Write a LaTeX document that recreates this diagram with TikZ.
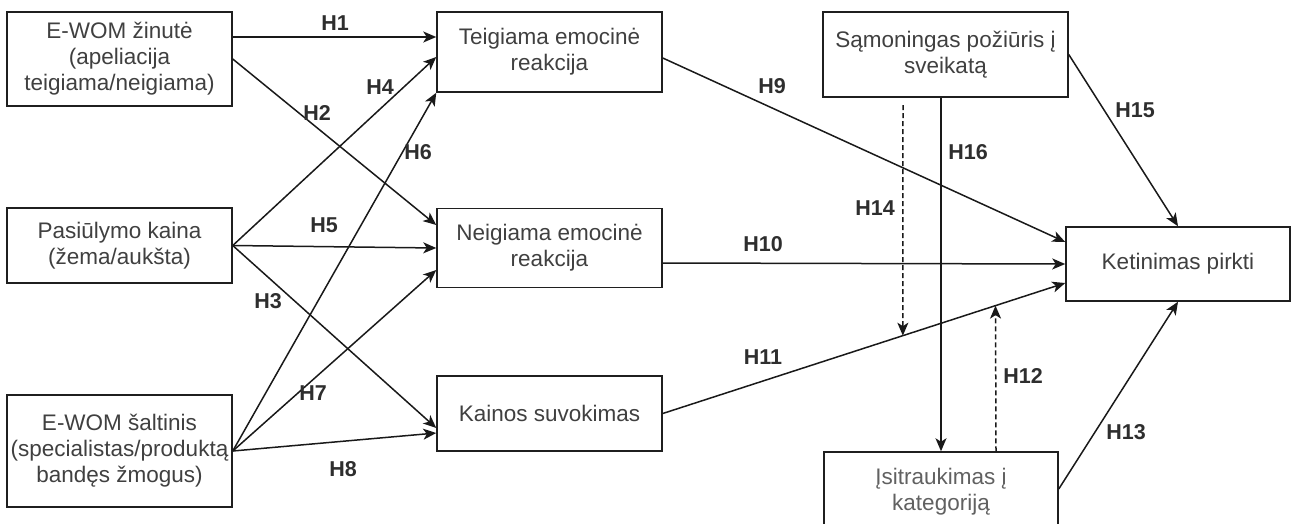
\documentclass[tikz,border=0pt]{standalone}
\usepackage{fontspec}
\setmainfont{Liberation Sans}
\usetikzlibrary{arrows.meta,calc}

\begin{document}
\begin{tikzpicture}[x=1pt,y=-1pt,
  box/.style={draw=black!88, line width=1.5pt, fill=white, align=center,
    text=black!75, font=\fontsize{22.5}{26}\selectfont, inner sep=0pt},
  link/.style={line width=1.5pt, draw=black!90,
    -{Stealth[length=13pt,width=11pt,inset=3.5pt]}},
  dlink/.style={link, dash pattern=on 5pt off 3pt},
  hyp/.style={font=\fontsize{21.5}{24}\selectfont\bfseries, text=black!82, inner sep=0pt}]

\useasboundingbox (0,0) rectangle (1291,523);

% independent variables
\node[box, minimum width=225pt, minimum height=94pt]  (A) at (119.5,59)
  {E-WOM žinutė\\(apeliacija\\teigiama/neigiama)};
\node[box, minimum width=225pt, minimum height=75pt]  (B) at (119.5,245.5)
  {Pasiūlymo kaina\\(žema/aukšta)};
\node[box, minimum width=225pt, minimum height=112pt] (C) at (119.5,451)
  {E-WOM šaltinis\\(specialistas/produktą\\bandęs žmogus)};

% mediators
\node[box, minimum width=225pt, minimum height=80pt] (D) at (549.5,52)
  {Teigiama emocinė\\reakcija};
\node[box, minimum width=225pt, minimum height=79pt] (E) at (549.5,248)
  {Neigiama emocinė\\reakcija};
\node[box, minimum width=225pt, minimum height=75pt] (F) at (549.5,413.5)
  {Kainos suvokimas};

% moderators and outcome
\node[box, minimum width=245pt, minimum height=85pt] (G) at (945.5,54.5)
  {Sąmoningas požiūris į\\sveikatą};
\node[box, minimum width=224pt, minimum height=74pt] (H) at (1178,264)
  {Ketinimas pirkti};
\node[box, minimum width=234pt, minimum height=80pt, text=black!62] (I) at (941,492)
  {Įsitraukimas į\\kategoriją};

% paths from the independent variables
\draw[link] ([yshift=22pt]A.east) -- ([yshift=15pt]D.west);
\draw[link] (A.east) -- ([yshift=23pt]E.west);
\draw[link] (B.east) -- ([yshift=-5pt]D.west);
\draw[link] (B.east) -- (E.west);
\draw[link] (B.east) -- ([yshift=-14.5pt]F.west);
\draw[link] (C.east) -- (D.south west);
\draw[link] (C.east) -- ([yshift=-22pt]E.west);
\draw[link] (C.east) -- ([yshift=-19.5pt]F.west);

% paths to purchase intention
\draw[link] ([yshift=-6pt]D.east) -- ([yshift=22pt]H.west);
\draw[link] ([yshift=-15pt]E.east) -- (H.west);
\coordinate (k1) at (F.east);
\coordinate (k2) at ([yshift=-19pt]H.west);
\draw[link] (k1) -- (k2);
\draw[link] (G.east) -- (H.north);
\draw[link] ([yshift=3pt]I.east) -- (H.south);
\draw[link] (I.north |- G.south) -- (I.north);

% moderating effects on the price perception path
\coordinate (t14) at (903,105);
\coordinate (m14) at ($(k1)!0.5965!(k2)$);
\draw[dlink] (t14) -- (m14);
\coordinate (s12) at ([xshift=55pt]I.north);
\coordinate (m12) at ($(k1)!0.8267!(k2)$);
\draw[dlink] (s12) -- (m12);

% hypothesis labels
\node[hyp] (h1)  at (335,23)   {H1};
\node[hyp] (h2)  at (317,113)  {H2};
\node[hyp] (h4)  at (380,87)   {H4};
\node[hyp] (h6)  at (418,152)  {H6};
\node[hyp] (h5)  at (324,225)  {H5};
\node[hyp] (h3)  at (268,301)  {H3};
\node[hyp] (h7)  at (313,393)  {H7};
\node[hyp] (h8)  at (343,469)  {H8};
\node[hyp] (h9)  at (772,86)   {H9};
\node[hyp] (h10) at (763,244)  {H10};
\node[hyp] (h11) at (763,357)  {H11};
\node[hyp] (h14) at (875,208)  {H14};
\node[hyp] (h16) at (968,152)  {H16};
\node[hyp] (h15) at (1135,110) {H15};
\node[hyp] (h12) at (1023,376) {H12};
\node[hyp] (h13) at (1126,432) {H13};
\end{tikzpicture}
\end{document}
